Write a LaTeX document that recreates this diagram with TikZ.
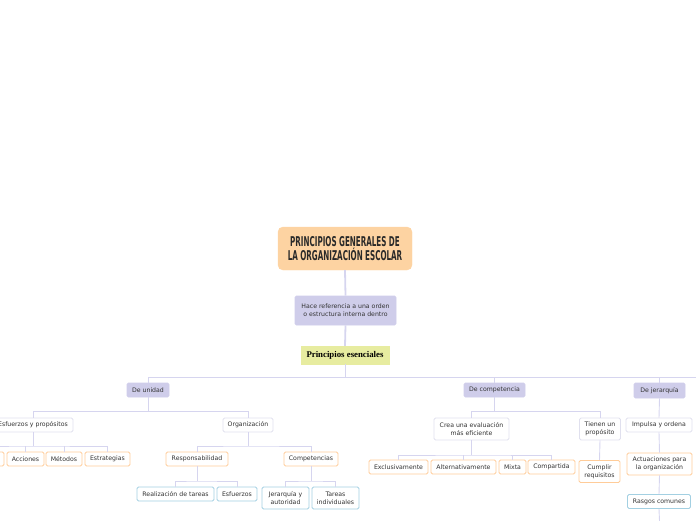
\documentclass[tikz,border=0pt]{standalone}
\usepackage{fontspec}
\setmainfont{DejaVu Sans}
\newfontfamily\rootfont[FakeStretch=0.53,BoldFeatures={FakeStretch=0.53}]{DejaVu Sans}
\newfontfamily\princfont{Liberation Serif}
\definecolor{lavfill}{HTML}{CFCDEA}
\definecolor{linec}{HTML}{D6D5EF}
\definecolor{rootfill}{HTML}{FDD3A2}
\definecolor{yelfill}{HTML}{E7ECA0}
\definecolor{orangeb}{HTML}{FFCC99}
\definecolor{blueb}{HTML}{A3D0E2}
\definecolor{grayb}{HTML}{E0E0EE}
\definecolor{txt}{HTML}{333333}
\tikzset{
  base/.style={draw, rounded corners=1.5pt, line width=0.8pt, text=txt, align=center, inner sep=0pt,
    font=\fontsize{6.2}{8.2}\selectfont},
  lav/.style={base, fill=lavfill, draw=lavfill},
  wbox/.style={base, fill=white, draw=grayb},
  obox/.style={base, fill=white, draw=orangeb},
  bbox/.style={base, fill=white, draw=blueb},
  rootbox/.style={draw=rootfill, fill=rootfill, rounded corners=5pt, align=center, inner sep=0pt,
    text=txt!80!black, font=\rootfont\bfseries\fontsize{13.5}{14}\selectfont},
  princbox/.style={draw=yelfill, fill=yelfill, inner sep=0pt, text=black,
    font=\princfont\bfseries\fontsize{8.8}{10}\selectfont},
  sz/.style 2 args={minimum width=#1, minimum height=#2},
  link/.style={draw=linec, line width=0.9pt},
  trunk/.style={draw=linec, line width=1.8pt},
}
\begin{document}
\begin{tikzpicture}[x=1pt,y=-1pt]
\useasboundingbox (0,0) rectangle (696,520);
\clip (0,0) rectangle (696,520);
% nodes
\node[rootbox, sz={134pt}{43pt}] (root) at (345,248.5) {PRINCIPIOS GENERALES DE\\LA ORGANIZACIÓN ESCOLAR};
\node[lav, sz={101pt}{29pt}, font=\fontsize{6.2}{8}\selectfont] (hace) at (345.5,310.5) {Hace referencia a una orden\\o estructura interna dentro};
\node[princbox, sz={88pt}{18pt}] (princ) at (345,355) {Principios esenciales};
\node[lav, sz={42pt}{14pt}] (unidad) at (148,390) {De unidad};
\node[lav, sz={61pt}{14pt}] (comp) at (494.5,390) {De competencia};
\node[lav, sz={51pt}{15pt}] (jer) at (659.5,390.5) {De jerarquía};
\node[wbox, sz={80pt}{14pt}] (esf) at (33,425) {Esfuerzos y propósitos};
\node[wbox, sz={50pt}{14pt}] (org) at (248,425) {Organización};
\node[obox, sz={40pt}{14pt}] (hid) at (-16,459) {};
\node[obox, sz={37pt}{14pt}] (acc) at (25.5,459) {Acciones};
\node[obox, sz={36pt}{14pt}] (met) at (64,459) {Métodos};
\node[obox, sz={45pt}{14pt}] (est) at (107.5,459) {Estrategias};
\node[obox, sz={62pt}{14pt}] (resp) at (197,459) {Responsabilidad};
\node[obox, sz={54pt}{14pt}] (compe) at (311,459) {Competencias};
\node[bbox, sz={77pt}{14pt}] (real) at (175.5,494) {Realización de tareas};
\node[bbox, sz={40pt}{14pt}] (esf2) at (237,494) {Esfuerzos};
\node[bbox, sz={47pt}{22pt}] (jya) at (285.5,498) {Jerarquía y\\autoridad};
\node[bbox, sz={47pt}{22pt}] (tar) at (335.5,498) {Tareas\\individuales};
\node[wbox, sz={75pt}{22pt}] (crea) at (471.5,429) {Crea una evaluación\\más eficiente};
\node[wbox, sz={41pt}{22pt}] (tien) at (600,429) {Tienen un\\propósito};
\node[obox, sz={59pt}{14pt}] (excl) at (398.5,467) {Exclusivamente};
\node[obox, sz={65pt}{14pt}] (alt) at (463.5,467) {Alternativamente};
\node[obox, sz={27pt}{14pt}] (mix) at (512.5,467) {Mixta};
\node[obox, sz={47pt}{14pt}] (compart) at (551.5,467) {Compartida};
\node[obox, sz={41pt}{22pt}] (cumpl) at (599.5,471.5) {Cumplir\\requisitos};
\node[wbox, sz={66pt}{14pt}] (imp) at (659,425) {Impulsa y ordena};
\node[obox, sz={65pt}{22pt}] (act) at (659.5,464) {Actuaciones para\\la organización};
\node[bbox, sz={63pt}{14pt}] (ras) at (659,501.5) {Rasgos comunes};
% bar coordinates
\coordinate (b0) at (345,377);
\coordinate (bR) at (697,377);
\coordinate (bU) at (148,411.5);
\coordinate (bE) at (33,446);
\coordinate (bO) at (248,446);
\coordinate (bRs) at (197,481);
\coordinate (bC) at (311,481);
\coordinate (bK) at (494.5,411.5);
\coordinate (bCr) at (471.5,455);
\coordinate (bot) at (659.5,521);
% connectors
\begin{scope}[on background layer/.style={}]
\draw[trunk] (root.south) -- (hace.north);
\draw[trunk] (hace.south) -- (princ.north);
\draw[link] (princ.south) -- (b0);
\draw[link] (unidad.north) |- (bR);
\draw[link] (comp.north) -- (comp.north |- b0);
\draw[link] (jer.north) -- (jer.north |- b0);
\draw[link] (unidad.south) -- (bU);
\draw[link] (esf.north) |- (bU) -| (org.north);
\draw[link] (esf.south) -- (bE);
\draw[link] (hid.north) |- (bE) -| (est.north);
\draw[link] (acc.north) -- (acc.north |- bE);
\draw[link] (met.north) -- (met.north |- bE);
\draw[link] (org.south) -- (bO);
\draw[link] (resp.north) |- (bO) -| (compe.north);
\draw[link] (resp.south) -- (bRs);
\draw[link] (real.north) |- (bRs) -| (esf2.north);
\draw[link] (compe.south) -- (bC);
\draw[link] (jya.north) |- (bC) -| (tar.north);
\draw[link] (comp.south) -- (bK);
\draw[link] (crea.north) |- (bK) -| (tien.north);
\draw[link] (crea.south) -- (bCr);
\draw[link] (excl.north) |- (bCr) -| (compart.north);
\draw[link] (alt.north) -- (alt.north |- bCr);
\draw[link] (mix.north) -- (mix.north |- bCr);
\draw[link] (tien.south) -- (cumpl.north);
\draw[link] (jer.south) -- (imp.north);
\draw[link] (imp.south) -- (act.north);
\draw[link] (act.south) -- (ras.north);
\draw[link] (ras.south) -- (bot);
\end{scope}
\end{tikzpicture}
\end{document}
